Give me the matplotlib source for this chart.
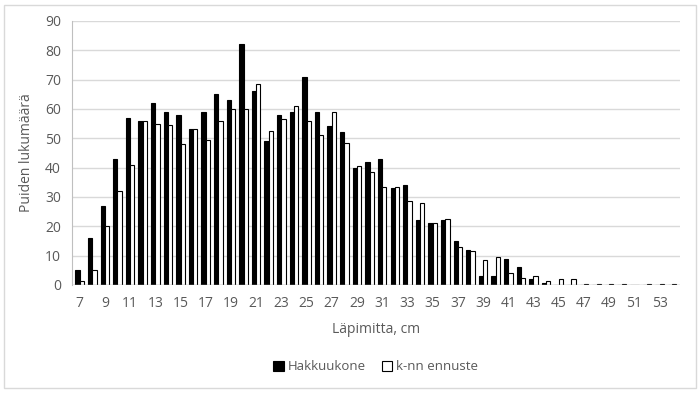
import numpy as np
import matplotlib.pyplot as plt
from matplotlib.patches import FancyBboxPatch

plt.rcParams['font.family'] = ['Open Sans', 'DejaVu Sans']

diam = list(range(7, 55))
hakkuukone = [5, 16, 27, 43, 57, 56, 62, 59, 58, 53, 59, 65, 63, 82, 66, 49,
              58, 59, 71, 59, 54, 52, 40, 42, 43, 33, 34, 22, 21, 22, 15, 12,
              3, 3, 9, 6, 2, 0.5, 0, 0, 0, 0, 0, 0, 0, 0, 0, 0]
knn = [1.5, 5, 20, 32, 41, 56, 55, 54.5, 48, 53, 49.5, 56, 60, 60, 68.5, 52.5,
       56.5, 61, 56, 51, 59, 48.5, 40.5, 38.5, 33.5, 33.5, 28.5, 28, 21, 22.5, 13, 11.5,
       8.5, 9.5, 4, 2.5, 3, 1.5, 2, 2, 0.4, 0.4, 0.4, 0.4, 0, 0.4, 0.4, 0.4]

txt = '#595959'
fig = plt.figure(figsize=(7, 3.93), dpi=100)
fig.patches.append(FancyBboxPatch((0.006, 0.012), 0.988, 0.976, boxstyle='square,pad=0',
                                  transform=fig.transFigure, fill=False,
                                  edgecolor='#d9d9d9', linewidth=1))
ax = fig.add_axes([0.103, 0.275, 0.868, 0.672])

x = np.arange(len(diam))
w = 0.34
ax.bar(x - w / 2, hakkuukone, w, color='black', edgecolor='black', linewidth=0.8,
       label='Hakkuukone', zorder=3)
ax.bar(x + w / 2, knn, w, color='white', edgecolor='black', linewidth=0.8,
       label='k-nn ennuste', zorder=3)

ax.set_ylim(0, 90)
ax.set_yticks(range(0, 91, 10))
ax.set_xlim(-0.6, len(diam) - 0.4)
ax.set_xticks(x[::2])
ax.set_xticklabels([str(d) for d in diam[::2]])
ax.grid(axis='y', color='#d9d9d9', linewidth=1, zorder=0)
for s in ['top', 'right', 'bottom']:
    ax.spines[s].set_visible(False)
ax.spines['left'].set_color('#bfbfbf')
ax.axhline(0, color='#bfbfbf', linewidth=1, zorder=4)
ax.tick_params(length=0, colors=txt, labelsize=10, pad=8)
ax.set_xlabel('Läpimitta, cm', color=txt, fontsize=10, labelpad=8)
ax.set_ylabel('Puiden lukumäärä', color=txt, fontsize=10, labelpad=8)

leg = ax.legend(loc='center', bbox_to_anchor=(0.5, -0.31), ncol=2, frameon=False,
                fontsize=9.5, handlelength=0.8, handleheight=0.8, handletextpad=0.3,
                columnspacing=1.2)
for t in leg.get_texts():
    t.set_color(txt)

fig.savefig('out.png', dpi=100)
